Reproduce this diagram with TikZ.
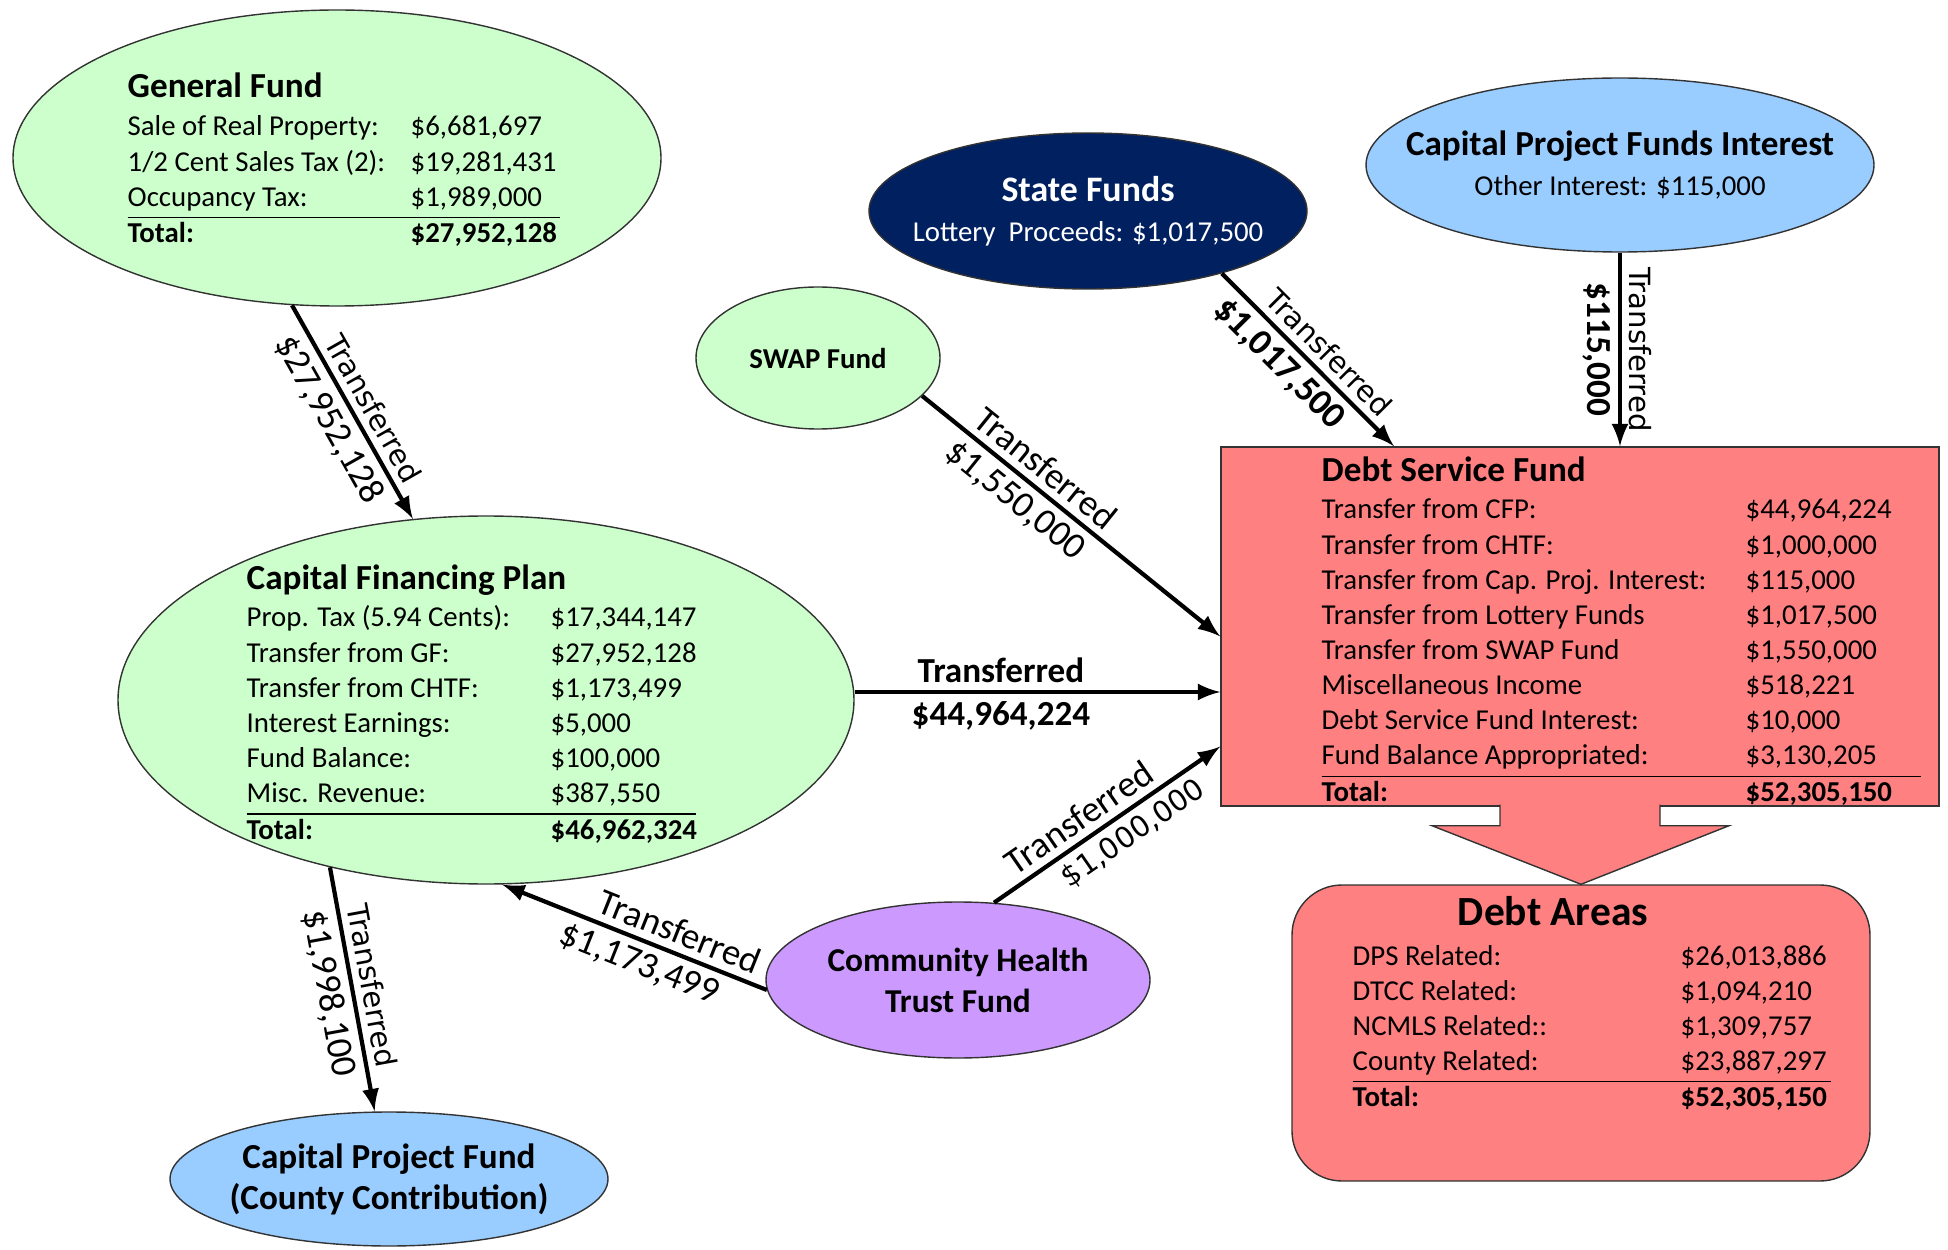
\documentclass[tikz,border=0pt]{standalone}
\usepackage{fontspec}
\setmainfont{Carlito}
\newfontfamily\dejavu{DejaVu Sans}
\usetikzlibrary{shapes.geometric,positioning}

\definecolor{fundgreen}{RGB}{204,255,204}
\definecolor{fundblue}{RGB}{153,204,255}
\definecolor{fundnavy}{RGB}{0,32,96}
\definecolor{fundred}{RGB}{255,128,128}
\definecolor{fundpurple}{RGB}{204,153,255}

\newcommand{\hdr}[1]{\multicolumn{2}{@{}l}{\fontsize{10}{12}\selectfont\bfseries #1}}

\begin{document}
\begin{tikzpicture}[>=latex, font=\fontsize{8.2}{10}\selectfont]
  \tikzstyle{ell}=[ellipse, draw=black!80, thin, inner sep=0pt]
  \tikzstyle{box}=[draw=black!80, thin, fill=fundred, inner sep=0pt]
  \tikzstyle{txt}=[inner sep=0pt, align=left]
  \tikzstyle{arr}=[->, line width=1.2pt]
  \tikzstyle{lab}=[sloped, font=\fontsize{10.5}{12}\selectfont, inner sep=2pt]
  \tikzstyle{vlab}=[sloped, font=\dejavu\fontsize{8.3}{10}\selectfont, inner sep=2pt]

  \useasboundingbox (0,0) rectangle (19.48,12.49);

  % ================= funds on the left =================
  \node[ell, fill=fundgreen, minimum width=6.48cm, minimum height=2.96cm] (gf) at (3.37,10.91) {};
  \node[txt, anchor=base west] (gft) at (1.27,11.51) {\begin{tabular}[t]{@{}p{2.83cm}@{}p{1.49cm}@{}}
      \hdr{General Fund}\\[0.8pt]
      Sale of Real Property: & \$6,681,697\\
      1/2 Cent Sales Tax (2): & \$19,281,431\\
      Occupancy Tax: & \$1,989,000\\ \hline
      \textbf{Total:} & \textbf{\$27,952,128}
    \end{tabular}};

  \node[ell, fill=fundgreen, minimum width=7.36cm, minimum height=3.68cm] (cfp) at (4.86,5.49) {};
  \node[txt, anchor=base west] (cfpt) at (2.46,6.60) {\begin{tabular}[t]{@{}p{3.04cm}@{}p{1.45cm}@{}}
      \hdr{Capital Financing Plan}\\[0.8pt]
      Prop. Tax (5.94 Cents): & \$17,344,147\\
      Transfer from GF: & \$27,952,128\\
      Transfer from CHTF: & \$1,173,499\\
      Interest Earnings: & \$5,000\\
      Fund Balance: & \$100,000\\
      Misc. Revenue: & \$387,550\\ \hline
      \textbf{Total:} & \textbf{\$46,962,324}
    \end{tabular}};

  \node[ell, fill=fundblue, minimum width=4.38cm, minimum height=1.34cm] (cpf) at (3.89,0.70) {};
  \node[txt, align=center, font=\fontsize{10}{11.7}\selectfont\bfseries] (cpft) at (cpf) {Capital Project Fund\\(County Contribution)};

  % ================= funds at the top =================
  \node[ell, fill=fundgreen, minimum width=2.44cm, minimum height=1.42cm] (swap) at (8.18,8.91) {};
  \node[txt, font=\fontsize{8.2}{9.9}\selectfont\bfseries] (swapt) at (swap) {SWAP Fund};

  \node[ell, fill=fundnavy, minimum width=4.38cm, minimum height=1.56cm] (state) at (10.88,10.38) {};
  \node[txt, align=center, text=white, font=\fontsize{8.2}{11.3}\selectfont] (statet) at (state)
    {{\fontsize{10.2}{12}\selectfont\bfseries State Funds}\\Lottery\ \ Proceeds: \$1,017,500};

  \node[ell, fill=fundblue, minimum width=5.08cm, minimum height=1.74cm] (cpfi) at (16.20,10.84) {};
  \node[txt, align=center, font=\fontsize{8.2}{11.3}\selectfont] (cpfit) at (cpfi)
    {{\fontsize{10}{12}\selectfont\bfseries Capital Project Funds Interest}\\Other Interest: \$115,000};

  \node[ell, fill=fundpurple, minimum width=3.84cm, minimum height=1.56cm] (chtf) at (9.58,2.69) {};
  \node[txt, align=center, font=\fontsize{9.5}{11.7}\selectfont\bfseries] (chtft) at (chtf) {Community Health\\Trust Fund};

  % ================= debt service =================
  \node[box, minimum width=7.18cm, minimum height=3.59cm] (dsf) at (15.80,6.225) {};
  \node[txt, anchor=base west] (dsft) at (13.21,7.68) {\begin{tabular}[t]{@{}p{4.24cm}@{}p{1.75cm}@{}}
      \hdr{Debt Service Fund}\\[0.8pt]
      Transfer from CFP: & \$44,964,224\\
      Transfer from CHTF: & \$1,000,000\\
      Transfer from Cap. Proj. Interest: & \$115,000\\
      Transfer from Lottery Funds & \$1,017,500\\
      Transfer from SWAP Fund & \$1,550,000\\
      Miscellaneous Income & \$518,221\\
      Debt Service Fund Interest: & \$10,000\\
      Fund Balance Appropriated: & \$3,130,205\\ \hline
      \textbf{Total:} & \textbf{\$52,305,150}
    \end{tabular}};

  \node[box, rounded corners=0.5cm, minimum width=5.78cm, minimum height=2.96cm] (da) at (15.81,2.16) {};
  \node[txt, font=\fontsize{11.8}{14}\selectfont\bfseries] (dah) at (15.53,3.38) {Debt Areas};
  \node[txt, anchor=base west] (dat) at (13.52,2.84) {\begin{tabular}[t]{@{}p{3.28cm}@{}p{1.5cm}@{}}
      DPS Related: & \$26,013,886\\
      DTCC Related: & \$1,094,210\\
      NCMLS Related:: & \$1,309,757\\
      County Related: & \$23,887,297\\ \hline
      \textbf{Total:} & \textbf{\$52,305,150}
    \end{tabular}};

  % big arrow down to the debt areas
  \draw[fill=fundred, draw=black!80, thin]
    ([xshift=-0.8cm,yshift=0.6pt]dsf.south) -- ([xshift=-0.8cm,yshift=-0.19cm]dsf.south)
    -- ([xshift=-1.48cm,yshift=-0.19cm]dsf.south) -- (da.north)
    -- ([xshift=1.49cm,yshift=-0.19cm]dsf.south) -- ([xshift=0.8cm,yshift=-0.19cm]dsf.south)
    -- ([xshift=0.8cm,yshift=0.6pt]dsf.south);

  % ================= transfers =================
  \draw[arr] (gf.253) -- (cfp.112)
    node[vlab, pos=0.53, above] (gfa) {Transferred}
    node[lab, pos=0.48, below] (gfb) {\$27,952,128};
  \draw[arr] (cfp.227) -- (cpf.102)
    node[vlab, midway, above] (cpfa) {Transferred}
    node[lab, midway, below] (cpfb) {\$1,998,100};
  \draw[arr] (chtf.183) -- (cfp.275)
    node[lab, pos=0.36, above] (chca) {Transferred}
    node[lab, pos=0.45, below] (chcb) {\$1,173,499};
  \draw[arr] (swap.340) -- ([yshift=-0.1cm]dsf.west)
    node[lab, pos=0.37, above] (swa) {Transferred}
    node[lab, pos=0.36, below] (swb) {\$1,550,000};
  \draw[arr] (state.335) -- ([xshift=-1.86cm]dsf.north)
    node[vlab, pos=0.54, above] (sta) {Transferred}
    node[lab, pos=0.43, below, font=\fontsize{10.5}{12}\selectfont\bfseries] (stb) {\$1,017,500};
  \draw[arr] (cpfi.south) -- (cpfi.south |- dsf.north)
    node[vlab, midway, above] (cpia) {Transferred}
    node[lab, midway, below, font=\fontsize{10}{12}\selectfont\bfseries] (cpib) {\$115,000};
  \draw[arr] ([yshift=0.08cm]cfp.east) -- ([yshift=0.08cm]cfp.east -| dsf.west)
    node[lab, pos=0.4, above, font=\fontsize{10}{12}\selectfont\bfseries] (cda) {Transferred}
    node[lab, pos=0.4, below, font=\fontsize{10}{12}\selectfont\bfseries] (cdb) {\$44,964,224};
  \draw[arr] (chtf.65) -- ([yshift=-1.2cm]dsf.west)
    node[lab, pos=0.43, above] (chda) {Transferred}
    node[vlab, pos=0.56, below] (chdb) {\$1,000,000};
\end{tikzpicture}
\end{document}
